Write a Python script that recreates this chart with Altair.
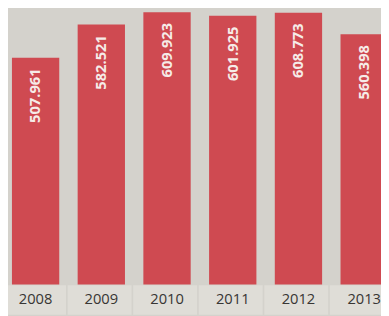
import altair as alt
import pandas as pd

years = ["2008", "2009", "2010", "2011", "2012", "2013"]
values = [507.961, 582.521, 609.923, 601.925, 608.773, 560.398]
labels = ["507.961", "582.521", "609.923", "601.925", "608.773", "560.398"]

df = pd.DataFrame({"year": years, "value": values, "label": labels})

BG = "#d4d2cc"
CELL = "#dfddd7"
RED = "#cf4a51"

x_bars = alt.X("year:N", sort=years, title=None,
               scale=alt.Scale(range=[0, 392], paddingInner=0.28, paddingOuter=0.06),
               axis=alt.Axis(labelAngle=0, domain=False, ticks=False, labelPadding=8,
                             labelFontSize=15, labelFont="Open Sans", labelColor="#383634",
                             labelBaseline="top", zindex=2))

y_enc = alt.Y("value:Q", title=None,
              scale=alt.Scale(domain=[0, 612], nice=False, zero=True),
              axis=None)

bars = alt.Chart(df).mark_bar(color=RED, cornerRadius=0).encode(x=x_bars, y=y_enc)

text = alt.Chart(df).mark_text(
    angle=270, align="right", baseline="middle", dx=-11,
    font="Open Sans", fontWeight="bold", fontSize=15, color="#f6ece8"
).encode(x=x_bars, y=y_enc, text="label:N")

cells = alt.Chart(df).mark_rect(color=CELL).encode(
    x=alt.X("year:N", sort=years, title=None, axis=None,
            scale=alt.Scale(range=[-6, 394], paddingInner=0.025, paddingOuter=0)),
    y=alt.value(280), y2=alt.value(310)
)

chart = alt.layer(cells, alt.layer(bars, text)).resolve_scale(x="independent").properties(
    width=381, height=279,
    autosize=alt.AutoSizeParams(type="none"),
    padding={"left": 0, "top": 0, "right": 0, "bottom": 29},
    background=BG
).configure_view(stroke=None)

chart.save("out.html", embed_options={"renderer": "svg", "actions": False})
